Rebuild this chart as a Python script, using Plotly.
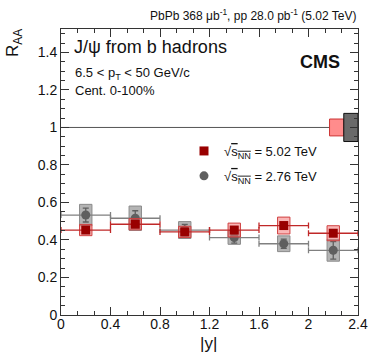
import plotly.graph_objects as go

# |y| bins
bin_lo = [0.0, 0.4, 0.8, 1.2, 1.6, 2.0]
bin_hi = [0.4, 0.8, 1.2, 1.6, 2.0, 2.4]
y_mid = [(a + b) / 2 for a, b in zip(bin_lo, bin_hi)]
half_w = [(b - a) / 2 for a, b in zip(bin_lo, bin_hi)]

# 5.02 TeV
raa_502 = [0.453, 0.484, 0.443, 0.453, 0.477, 0.436]
stat_502 = [0.010, 0.010, 0.010, 0.012, 0.012, 0.012]
syst_502 = [0.030, 0.030, 0.030, 0.037, 0.045, 0.040]

# 2.76 TeV
raa_276 = [0.533, 0.516, 0.453, 0.413, 0.380, 0.345]
stat_276 = [0.037, 0.040, 0.030, 0.030, 0.025, 0.047]
syst_276 = [0.057, 0.065, 0.045, 0.036, 0.042, 0.058]

# global uncertainties at RAA = 1
glob_502 = 0.045
glob_276 = 0.075

FONT = "Liberation Sans, Arial, sans-serif"
BOX_HW = 0.05

L, R, T, B = 61, 16, 29, 44
W, H = 374, 359
PW, PH = W - L - R, H - T - B


def px(x):
    return (x - L) / PW


def py(y):
    return (H - B - y) / PH


def boxes(xc, yc, err, hw):
    xs, ys = [], []
    for x, y, e in zip(xc, yc, err):
        xs += [x - hw, x + hw, x + hw, x - hw, x - hw, None]
        ys += [y - e, y - e, y + e, y + e, y - e, None]
    return xs, ys


fig = go.Figure()

# line at 1
fig.add_trace(go.Scatter(x=[0, 2.4], y=[1, 1], mode="lines",
                         line=dict(color="#555555", width=1), showlegend=False, hoverinfo="skip"))

# global boxes
gx, gy = boxes([2.2275], [1.0], [glob_502], 0.0575)
fig.add_trace(go.Scatter(x=gx, y=gy, mode="lines", fill="toself", fillcolor="#ff8c8c",
                         line=dict(color="#cc3333", width=1), showlegend=False, hoverinfo="skip"))
gx, gy = boxes([2.3425], [1.0], [glob_276], 0.0575)
fig.add_trace(go.Scatter(x=gx, y=gy, mode="lines", fill="toself", fillcolor="#6a6a6a",
                         line=dict(color="#111111", width=1), showlegend=False, hoverinfo="skip"))

# 2.76 TeV syst boxes + points
bx, by = boxes(y_mid, raa_276, syst_276, BOX_HW)
fig.add_trace(go.Scatter(x=bx, y=by, mode="lines", fill="toself", fillcolor="rgba(125,125,125,0.58)",
                         line=dict(color="#8a8a8a", width=1), showlegend=False, hoverinfo="skip"))
fig.add_trace(go.Scatter(
    x=y_mid, y=raa_276, mode="markers", legendgroup="g276", legendrank=2,
    name="√<span style='text-decoration:overline'>s<sub>NN</sub></span> = 2.76 TeV",
    marker=dict(symbol="circle", size=9, color="#5f5f5f"),
    error_x=dict(type="data", array=half_w, color="#808080", thickness=1.3, width=3),
    error_y=dict(type="data", array=stat_276, color="#5f5f5f", thickness=1.3, width=3),
))

# 5.02 TeV syst boxes + points
bx, by = boxes(y_mid, raa_502, syst_502, BOX_HW)
fig.add_trace(go.Scatter(x=bx, y=by, mode="lines", fill="toself", fillcolor="rgba(245,110,110,0.5)",
                         line=dict(color="#d04040", width=1), showlegend=False, hoverinfo="skip"))
fig.add_trace(go.Scatter(
    x=y_mid, y=raa_502, mode="markers", legendgroup="g502", legendrank=1,
    name="√<span style='text-decoration:overline'>s<sub>NN</sub></span> = 5.02 TeV",
    marker=dict(symbol="square", size=9, color="#990000"),
    error_x=dict(type="data", array=half_w, color="#c02828", thickness=1.3, width=3),
    error_y=dict(type="data", array=stat_502, color="#c02828", thickness=1.3, width=3),
))

ax = dict(showline=True, linecolor="#333333", linewidth=1, mirror="allticks", ticks="inside",
          tickcolor="#333333", showgrid=False, zeroline=False,
          tickfont=dict(family=FONT, size=14, color="#111111"))

fig.update_xaxes(range=[0, 2.4], tickvals=[0, 0.4, 0.8, 1.2, 1.6, 2.0, 2.4],
                 ticktext=["0", "0.4", "0.8", "1.2", "1.6", "2", "2.4"], ticklen=8,
                 ticklabelstandoff=-4,
                 minor=dict(dtick=0.4 / 3, tick0=0, ticks="inside", ticklen=4, tickcolor="#333333"), **ax)
fig.update_yaxes(range=[0, 1.525], ticklen=8,
                 tickvals=[0, 0.2, 0.4, 0.6, 0.8, 1.0, 1.2, 1.4],
                 ticktext=["0", "0.2", "0.4", "0.6", "0.8", "1", "1.2", "1.4"],
                 minor=dict(dtick=0.05, tick0=0, ticks="inside", ticklen=4, tickcolor="#333333"), **ax)

ann = [
    dict(text="PbPb 368 μb<sup>-1</sup>, pp 28.0 pb<sup>-1</sup> (5.02 TeV)", x=1.0, y=py(15),
         xanchor="right", yanchor="middle", font=dict(size=12)),
    dict(text="R<sub>AA</sub>", x=px(14), y=py(27), xanchor="center", yanchor="top",
         textangle=-90, font=dict(size=17)),
    dict(text="|y|", x=0.495, y=py(343), xanchor="center", yanchor="middle", font=dict(size=17)),
    dict(text="J/ψ from b hadrons", x=px(72), y=py(47), xanchor="left", yanchor="middle", font=dict(size=18)),
    dict(text="6.5 < p<sub>T</sub> < 50 GeV/c", x=px(73), y=py(73), xanchor="left", yanchor="middle",
         font=dict(size=13)),
    dict(text="Cent. 0-100%", x=px(73), y=py(90), xanchor="left", yanchor="middle", font=dict(size=13)),
    dict(text="<b>CMS</b>", x=px(342), y=py(62), xanchor="right", yanchor="middle", font=dict(size=18)),
]
for a in ann:
    a.update(xref="paper", yref="paper", showarrow=False)
    a["font"] = dict(family=FONT, color="#111111", **a["font"])

fig.update_layout(
    width=W, height=H, margin=dict(l=L, r=R, t=T, b=B, autoexpand=False),
    paper_bgcolor="white", plot_bgcolor="white",
    font=dict(family=FONT, color="#111111"),
    annotations=ann,
    legend=dict(x=px(184), y=py(136), xanchor="left", yanchor="top", traceorder="grouped",
                bgcolor="rgba(0,0,0,0)", font=dict(family=FONT, size=13, color="#111111"),
                itemwidth=30, tracegroupgap=5),
)

fig.write_html("out.html", config={"displayModeBar": False})

# drop the default 8px page margin so the figure sits at the window's corner
with open("out.html", encoding="utf-8") as f:
    page = f.read()
page = page.replace("<body>", '<body style="margin:0;padding:0">', 1)
with open("out.html", "w", encoding="utf-8") as f:
    f.write(page)
